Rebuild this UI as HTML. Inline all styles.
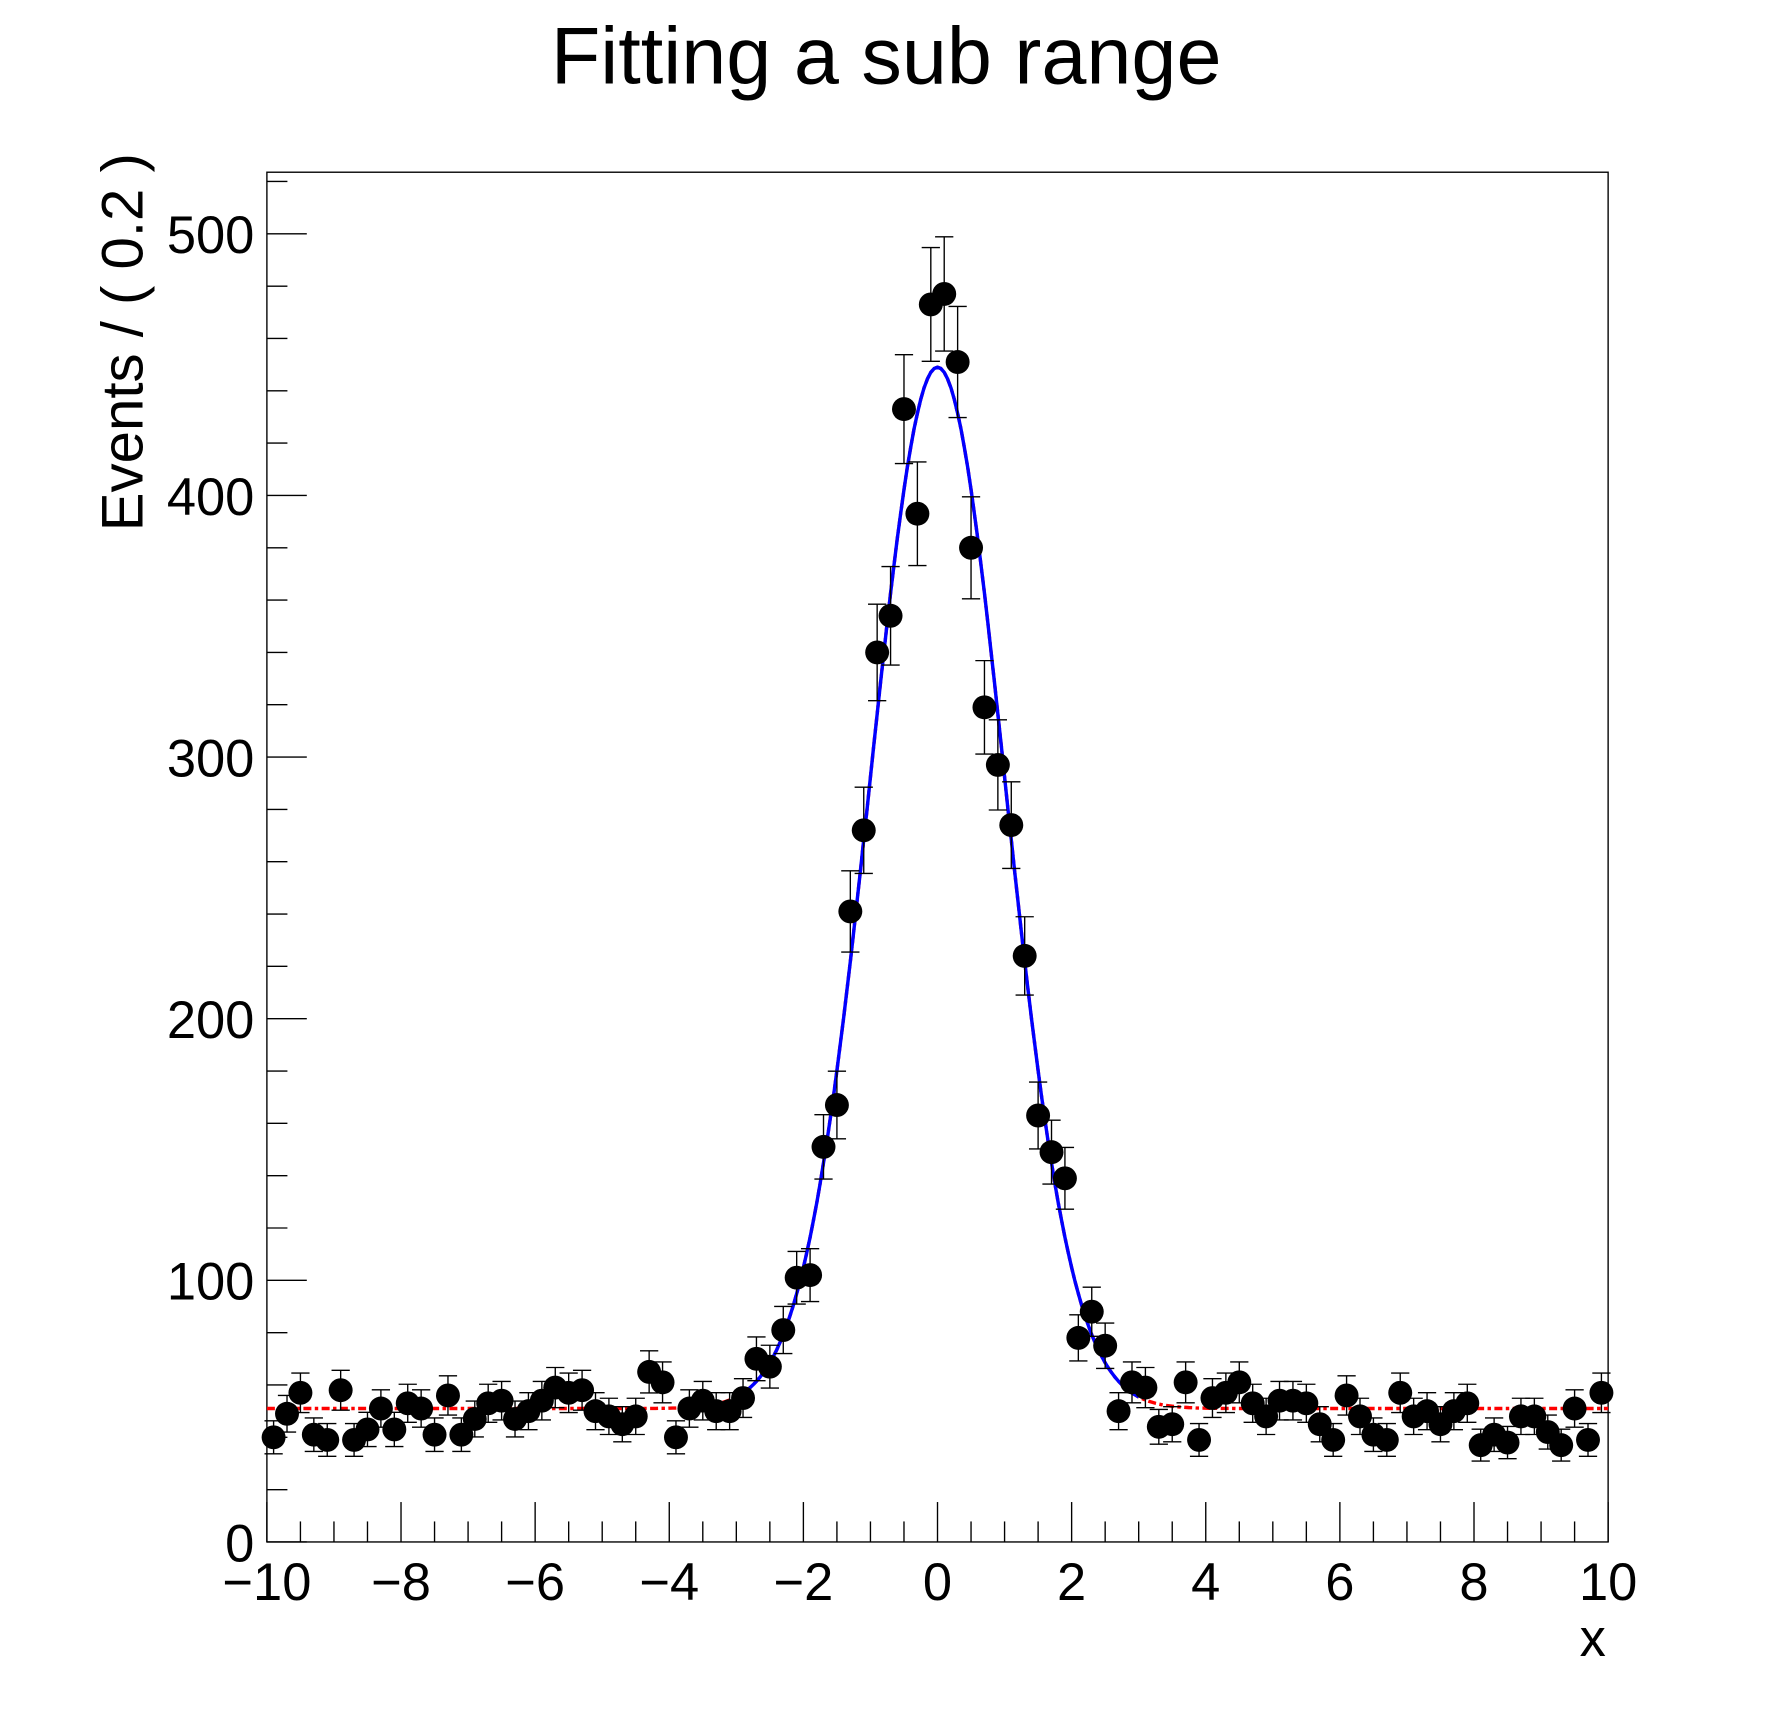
<!DOCTYPE html>
<html><head><meta charset="utf-8"><style>
html,body{margin:0;padding:0;background:#fff;}
svg{display:block;}
text{font-family:"Liberation Sans",sans-serif;fill:#000;}
</style></head><body>
<svg id="s" width="1788" height="1716" viewBox="0 0 1567.7 1504.6" xmlns="http://www.w3.org/2000/svg">
<rect x="0" y="0" width="1567.7" height="1504.6" fill="#fff"/>
<text x="777" y="73" font-size="71" text-anchor="middle">Fitting a sub range</text>
<text transform="translate(125,300) rotate(-90)" font-size="51" text-anchor="middle">Events / ( 0.2 )</text>
<text x="1408" y="1452" font-size="46" text-anchor="end">x</text>
<g id="g"></g>
</svg>
<script>
var NS="http://www.w3.org/2000/svg",g=document.getElementById("g");
function el(t,a,txt){var e=document.createElementNS(NS,t);for(var k in a)e.setAttribute(k,a[k]);if(txt!==undefined)e.textContent=txt;g.appendChild(e);return e;}
var X0=234,X1=1410,Y0=1352,SY=2.294;
function px(x){return X0+(x+10)*(X1-X0)/20;}
function py(v){return Y0-v*SY;}
el("rect",{x:X0,y:151,width:X1-X0,height:Y0-151,fill:"none",stroke:"#000","stroke-width":1.2});
for(var i=0;i<=40;i++){var x=-10+i*0.5,maj=(i%4==0);el("line",{x1:px(x),x2:px(x),y1:Y0,y2:Y0-(maj?35:18),stroke:"#000","stroke-width":1.2});
 if(maj)el("text",{x:px(x),y:1403,"font-size":46,"text-anchor":"middle"},(x<0?"\u2212"+(-x):""+x));}
for(var v=0;v<=520;v+=20){var maj=(v%100==0);el("line",{x1:X0,x2:X0+(maj?35:18),y1:py(v),y2:py(v),stroke:"#000","stroke-width":1.2});
 if(maj)el("text",{x:223,y:py(v)+17,"font-size":46,"text-anchor":"end"},""+v);}
function f(x){return 51+398*Math.exp(-x*x/2);}
var d="";for(var x=-10;x<=10.001;x+=0.05)d+=(d?"L":"M")+px(x).toFixed(1)+","+py(f(x)).toFixed(1);
el("path",{d:d,fill:"none",stroke:"#f00","stroke-width":3,"stroke-dasharray":"7,3,3,3"});
d="";for(var x=-3;x<=3.001;x+=0.05)d+=(d?"L":"M")+px(x).toFixed(1)+","+py(f(x)).toFixed(1);
el("path",{d:d,fill:"none",stroke:"#00f","stroke-width":3});
var data=[40,49,57,41,39,58,39,43,51,43,53,51,41,56,41,47,53,54,47,50,54,59,57,58,50,48,45,48,65,61,40,51,54,50,50,55,70,67,81,101,102,151,167,241,272,340,354,433,393,473,477,451,380,319,297,274,224,163,149,139,78,88,75,50,61,59,44,45,61,39,55,57,61,53,48,54,54,53,45,39,56,48,41,39,57,48,50,45,50,53,37,41,38,48,48,42,37,51,39,57];
for(var i=0;i<100;i++){var x=-9.9+i*0.2,v=data[i],e=Math.sqrt(v),cx=px(x);
 var yt=py(v+e),yb=py(v-e);
 el("line",{x1:cx,x2:cx,y1:yt,y2:yb,stroke:"#000","stroke-width":1.2});
 el("line",{x1:cx-8,x2:cx+8,y1:yt,y2:yt,stroke:"#000","stroke-width":1.2});
 el("line",{x1:cx-8,x2:cx+8,y1:yb,y2:yb,stroke:"#000","stroke-width":1.2});
 el("circle",{cx:cx,cy:py(v),r:10.5,fill:"#000"});}
</script>
</body></html>
